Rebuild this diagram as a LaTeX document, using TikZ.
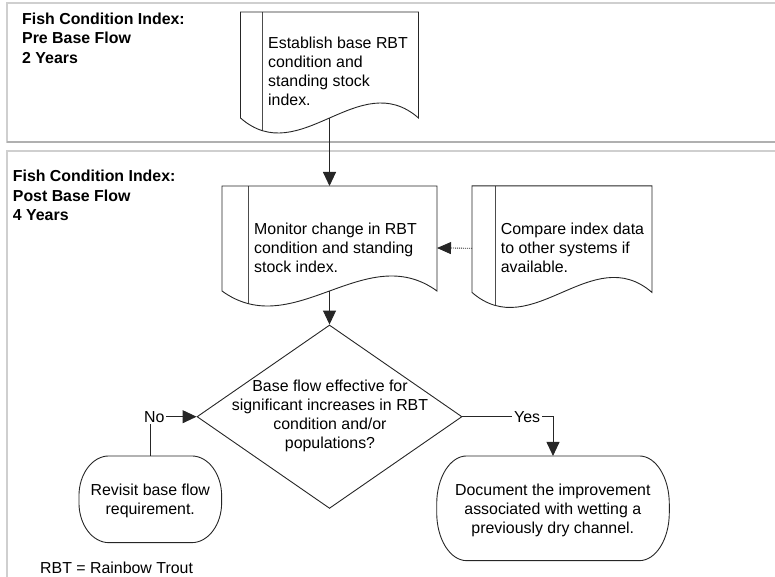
\documentclass[tikz,border=0pt]{standalone}
\usepackage{fontspec}
% body text is set at 10pt nominal, scaled to about 15.9pt
\setmainfont{Liberation Sans}[Scale=1.59]
\usetikzlibrary{shapes.geometric,arrows.meta,calc}

\newcommand\bodyfont{\fontsize{10pt}{19pt}\selectfont}
\newcommand\lanefont{\fontsize{10pt}{19.5pt}\selectfont\bfseries}

% document shape on a frame node: straight top and sides, wavy bottom,
% with a thin rule near the left side (#2 = its offset)
\newcommand\docshape[2]{%
  \begin{scope}
    \clip (#1.south west) -- (#1.north west) -- (#1.north east) -- (#1.south east)
      .. controls ($(#1.south east)!0.3333!(#1.south west)+(0,52)$)
      and ($(#1.south east)!0.6667!(#1.south west)+(0,-52)$) .. (#1.south west) -- cycle;
    \draw[docrule] ([xshift=#2]#1.north west) -- ([xshift=#2,yshift=-40pt]#1.south west);
  \end{scope}
  \draw[outline] (#1.south west) -- (#1.north west) -- (#1.north east) -- (#1.south east)
    .. controls ($(#1.south east)!0.3333!(#1.south west)+(0,52)$)
    and ($(#1.south east)!0.6667!(#1.south west)+(0,-52)$) .. (#1.south west) -- cycle;
}

% terminator on a frame node, corners are elliptic arcs (#2, #3 = radii)
\newcommand\termshape[3]{%
  \draw[outline] ([xshift=#2]#1.north west) -- ([xshift=-#2]#1.north east)
    arc[start angle=90,end angle=0,x radius=#2,y radius=#3] -- ([yshift=#3]#1.south east)
    arc[start angle=0,end angle=-90,x radius=#2,y radius=#3] -- ([xshift=#2]#1.south west)
    arc[start angle=270,end angle=180,x radius=#2,y radius=#3] -- ([yshift=-#3]#1.north west)
    arc[start angle=180,end angle=90,x radius=#2,y radius=#3] -- cycle;
}

\tikzset{
  lane/.style={draw=gray!38, line width=1.3pt},
  laneshadow/.style={draw=gray!62, line width=1.3pt},
  frame/.style={rectangle, inner sep=0pt, outer sep=0pt, draw=none},
  outline/.style={draw=black!85, line width=0.9pt},
  docrule/.style={draw=black!70, line width=0.9pt},
  txt/.style={inner sep=0pt, align=left, font=\bodyfont},
  ctxt/.style={inner sep=0pt, align=center, font=\bodyfont},
  lanetitle/.style={inner sep=0pt, align=left, font=\lanefont},
  flow/.style={draw=black!85, line width=0.9pt, -{Triangle[length=14pt,width=13pt]}},
  dotflow/.style={draw=black!85, line width=0.8pt, dash pattern=on 1pt off 1pt,
    -{Triangle[length=14pt,width=12pt]}},
  lbl/.style={fill=white, inner sep=2pt, font=\bodyfont},
}

\begin{document}
\begin{tikzpicture}[x=1pt, y=1pt]
  \useasboundingbox (0,0) rectangle (775,-577);
  \clip (0,0) rectangle (775,-577);

  % swimlanes
  \draw[lane] (7,-3) rectangle (790,-142);
  \draw[laneshadow] (7,-142) -- (790,-142);
  \draw[lane] (7,-151) rectangle (790,-600);

  \node[lanetitle, anchor=north west] (lane1) at (22,-12.5)
    {Fish Condition Index:\\Pre Base Flow\\2 Years};
  \node[lanetitle, anchor=north west] (lane2) at (12.7,-170.2)
    {Fish Condition Index:\\Post Base Flow\\4 Years};

  % frames of the shapes
  \node[frame, minimum width=178pt, minimum height=106pt] (est) at (329.5,-65) {};
  \node[frame, minimum width=215pt, minimum height=105pt] (mon) at (329.5,-238.5) {};
  \node[frame, minimum width=180pt, minimum height=106.5pt] (cmp) at (562,-239.2) {};
  \node[diamond, draw=black!85, line width=0.9pt, inner sep=0pt,
        minimum width=265pt, minimum height=183.4pt] (dia) at (329.5,-416.7) {};
  \node[frame, minimum width=142.7pt, minimum height=86.7pt] (rev) at (150.3,-499.3) {};
  \node[frame, minimum width=232.6pt, minimum height=104.7pt] (doc) at (553,-508.3) {};

  \docshape{est}{22pt}
  \docshape{mon}{26pt}
  \docshape{cmp}{23pt}
  \termshape{rev}{30pt}{40pt}
  \termshape{doc}{30pt}{48pt}

  % texts
  \node[txt, anchor=north west] (estt) at (268,-37)
    {Establish base RBT\\condition and\\standing stock\\index.};
  \node[txt, anchor=north west] (mont) at (254,-222.5)
    {Monitor change in RBT\\condition and standing\\stock index.};
  \node[txt, anchor=north west] (cmpt) at (500.7,-222.5)
    {Compare index data\\to other systems if\\available.};
  \node[ctxt, anchor=north] (diat) at (330,-380.2)
    {Base flow effective for\\significant increases in RBT\\condition and/or\\populations?};
  \node[ctxt, anchor=north] (revt) at (150.3,-484.2)
    {Revisit base flow\\requirement.};
  \node[ctxt, anchor=north] (doct) at (552.8,-483.5)
    {Document the improvement\\associated with wetting a\\previously dry channel.};
  \node[txt, anchor=north west] (note) at (40,-561.5) {RBT = Rainbow Trout};

  % connectors
  \draw[flow] (est.south) -- (mon.north);
  \draw[flow] (mon.south) -- (dia.north);
  \draw[dotflow] ([yshift=-9pt]cmp.west) -- ([yshift=-9.5pt]mon.east);
  \draw[flow] (rev.north) |- node[lbl, pos=0.5, xshift=4pt] (no) {No} (dia.west);
  \draw[flow] (dia.east) -| node[lbl, pos=0.357] (yes) {Yes} (doc.north);
\end{tikzpicture}
\end{document}
